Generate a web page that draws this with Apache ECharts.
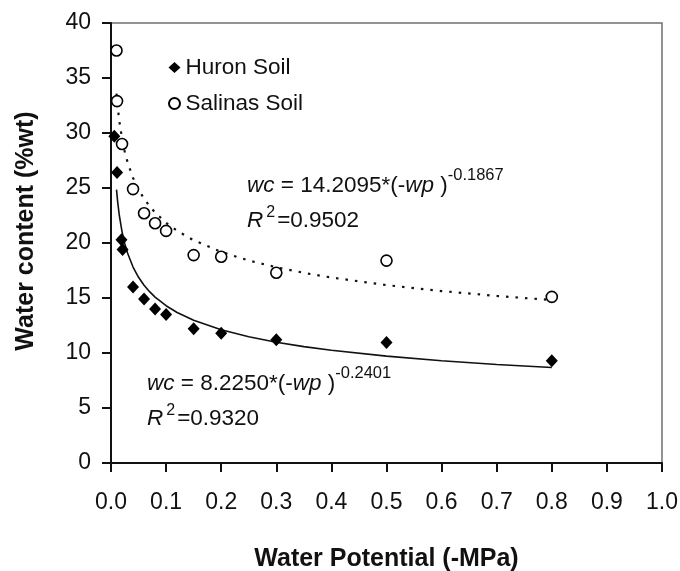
<!DOCTYPE html>
<html><head><meta charset="utf-8">
<script src="https://cdn.jsdelivr.net/npm/echarts@6/dist/echarts.min.js"></script>
<style>html,body{margin:0;padding:0;background:#fff}#c{width:680px;height:571px}</style>
</head><body><div id="c"></div>
<script>
// ---- data ----
const huronX = [0.006, 0.011, 0.019, 0.021, 0.04, 0.06, 0.08, 0.10, 0.15, 0.20, 0.30, 0.50, 0.80];
const huronY = [29.7, 26.4, 20.3, 19.4, 16.0, 14.9, 14.0, 13.5, 12.2, 11.8, 11.2, 10.95, 9.3];
const salinasX = [0.010, 0.011, 0.02, 0.04, 0.06, 0.08, 0.10, 0.15, 0.20, 0.30, 0.50, 0.80];
const salinasY = [37.5, 32.9, 29.0, 24.9, 22.7, 21.8, 21.1, 18.9, 18.75, 17.3, 18.4, 15.1];
const xTickLabels = ['0.0','0.1','0.2','0.3','0.4','0.5','0.6','0.7','0.8','0.9','1.0'];
const yTickLabels = ['0','5','10','15','20','25','30','35','40'];
// fitted power curves as printed on the chart: wc = a * (-wp)^b
const huronFit = [8.2250, -0.2401];
const salinasFit = [14.2095, -0.1867];
const fitX = [0.01, 0.012, 0.015, 0.02, 0.025, 0.03, 0.04, 0.05, 0.06, 0.07, 0.08, 0.1, 0.12, 0.15, 0.2, 0.25, 0.3, 0.35, 0.4, 0.5, 0.6, 0.7, 0.8];

const F = '"Liberation Sans", Arial, Helvetica, sans-serif';
const pair = (xs, ys) => xs.map((x, i) => [x, ys[i]]);
const curve = (c) => fitX.map(x => [x, c[0] * Math.pow(x, c[1])]);

const rich = {
  i: {fontFamily: F, fontSize: 22.5, fontStyle: 'italic', color: '#111'},
  n: {fontFamily: F, fontSize: 22.5, color: '#111'},
  s: {fontFamily: F, fontSize: 16.5, color: '#111', padding: [0, 0, 20, 0]},
  s2: {fontFamily: F, fontSize: 16, color: '#111', padding: [0, 2, 16, 3]}
};
const txt = (left, top, text) => ({
  type: 'text', left: left, top: top,
  style: {text: text, rich: rich, fontFamily: F, fontSize: 22.5, fill: '#111', verticalAlign: 'top'}
});

const chart = echarts.init(document.getElementById('c'));
chart.setOption({
  animation: false,
  backgroundColor: '#fff',
  grid: {left: 111, right: 18, top: 23, bottom: 108, outerBoundsMode: 'none', containLabel: false,
    show: true, borderColor: '#707070', borderWidth: 1.5, backgroundColor: 'transparent'},
  xAxis: {
    type: 'value', min: 0, max: 1, interval: 0.1,
    name: 'Water Potential (-MPa)', nameLocation: 'middle', nameGap: 84,
    nameTextStyle: {fontFamily: F, fontSize: 25, fontWeight: 'bold', color: '#111'},
    axisLine: {show: true, lineStyle: {color: '#111', width: 2}},
    axisTick: {show: true, length: 9, lineStyle: {color: '#111', width: 2}},
    axisLabel: {margin: 28, fontFamily: F, fontSize: 23, color: '#111',
      formatter: (v) => xTickLabels[Math.round(v * 10)]},
    splitLine: {show: false}
  },
  yAxis: {
    type: 'value', min: 0, max: 40, interval: 5,
    name: 'Water content (%wt)', nameLocation: 'middle', nameGap: 72,
    nameTextStyle: {fontFamily: F, fontSize: 25, fontWeight: 'bold', color: '#111', padding: [0, 0, 0, 24]},
    axisLine: {show: true, lineStyle: {color: '#111', width: 2}},
    axisTick: {show: true, length: 9, lineStyle: {color: '#111', width: 2}},
    axisLabel: {margin: 20, fontFamily: F, fontSize: 23, color: '#111',
      formatter: (v) => yTickLabels[Math.round(v / 5)]},
    splitLine: {show: false}
  },
  legend: {
    orient: 'vertical', left: 163, top: 51, itemGap: 13, itemWidth: 12, itemHeight: 11,
    textStyle: {fontFamily: F, fontSize: 22.5, color: '#111'},
    data: [{name: 'Huron Soil', icon: 'diamond'}, {name: 'Salinas Soil', icon: 'circle'}]
  },
  series: [
    {type: 'line', name: 'Huron fit', data: curve(huronFit), showSymbol: false, symbol: 'none',
      lineStyle: {color: '#111', width: 1.6}, silent: true, z: 1},
    {type: 'line', name: 'Salinas fit', data: curve(salinasFit), showSymbol: false, symbol: 'none',
      lineStyle: {color: '#111', width: 2.2, type: [2.5, 7]}, silent: true, z: 1},
    {type: 'scatter', name: 'Huron Soil', data: pair(huronX, huronY), symbol: 'diamond', symbolSize: [12, 13],
      itemStyle: {color: '#000', borderColor: '#000', borderWidth: 0, opacity: 1}, z: 3},
    {type: 'scatter', name: 'Salinas Soil', data: pair(salinasX, salinasY), symbol: 'circle', symbolSize: 11,
      itemStyle: {color: '#fff', borderColor: '#000', borderWidth: 1.6, opacity: 1}, z: 4}
  ],
  graphic: [
    txt(247, 167, '{i|wc}{n| = 14.2095*(-}{i|wp}{n| )}{s|-0.1867}'),
    txt(247, 205, '{i|R}{s2|2}{n|=0.9502}'),
    txt(147, 365, '{i|wc}{n| = 8.2250*(-}{i|wp}{n| )}{s|-0.2401}'),
    txt(147, 403, '{i|R}{s2|2}{n|=0.9320}')
  ]
});
</script></body></html>
